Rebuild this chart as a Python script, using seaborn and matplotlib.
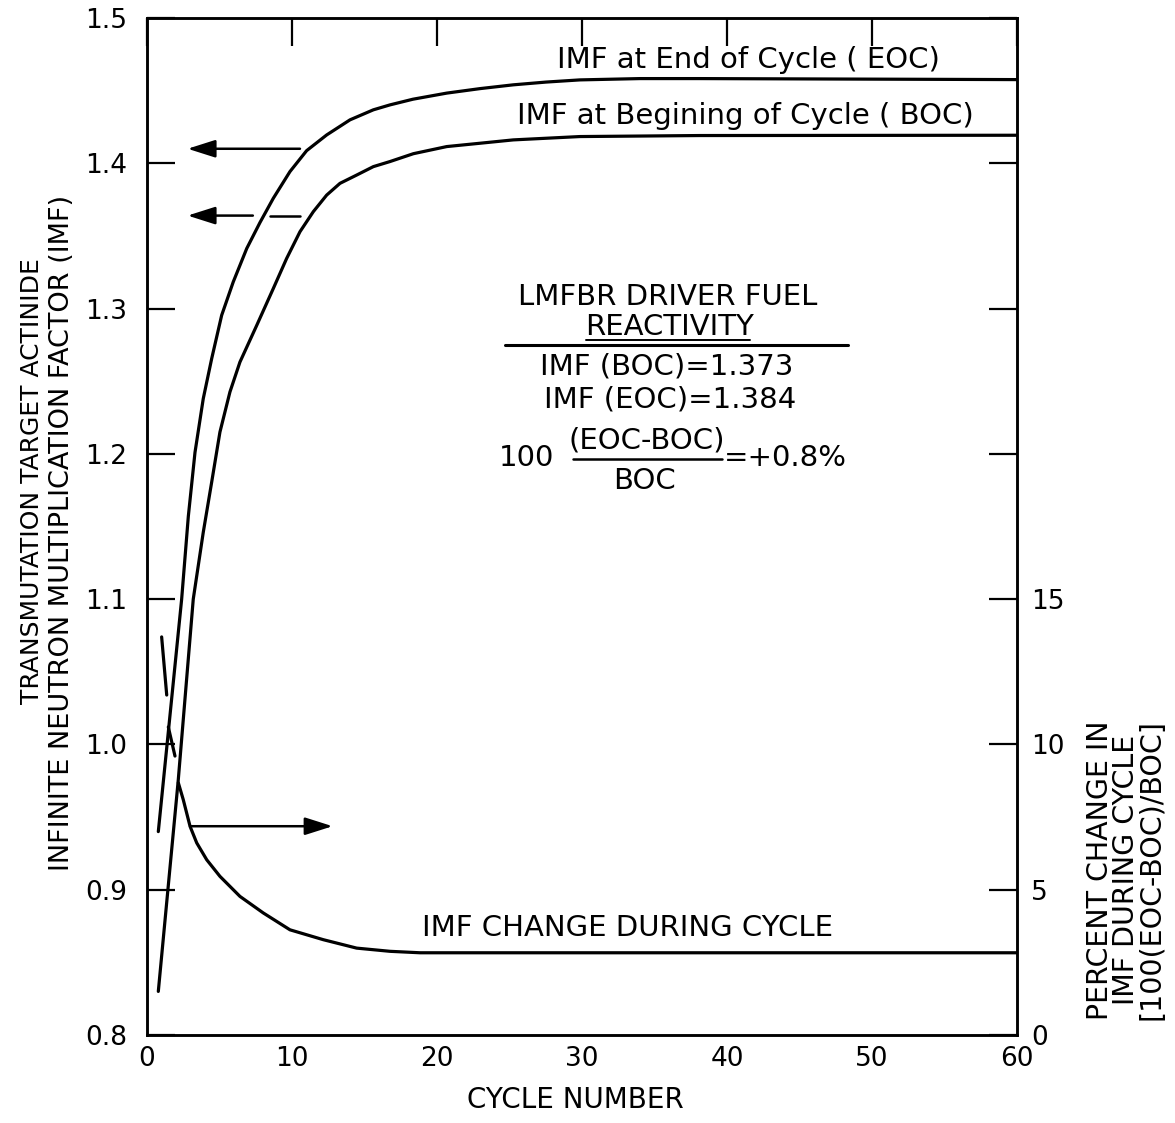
import numpy as np
import pandas as pd
import matplotlib
matplotlib.use("Agg")
import matplotlib.pyplot as plt
from matplotlib import font_manager as fm
import seaborn as sns

# ---------------- data ----------------
cycle_eoc = [0.78, 2.39, 2.85, 3.31, 3.88, 4.46, 5.15, 5.95, 6.88, 7.79, 8.71,
             9.86, 11.01, 12.39, 14.00, 15.61, 16.76, 18.34, 20.67, 22.97,
             25.26, 27.52, 29.86, 34.0, 38.1, 60.0]
imf_eoc = [0.940, 1.100, 1.157, 1.201, 1.238, 1.2655, 1.2954, 1.3184, 1.3414,
           1.3592, 1.3759, 1.3943, 1.4087, 1.4195, 1.4299, 1.4368, 1.4402,
           1.4441, 1.4483, 1.4514, 1.4540, 1.4559, 1.4574, 1.4583, 1.4583,
           1.4576]

cycle_boc = [0.78, 2.16, 3.19, 3.88, 4.46, 5.03, 5.72, 6.41, 7.57, 8.71, 9.63,
             10.55, 11.47, 12.39, 13.31, 14.46, 15.61, 16.76, 18.37, 20.67,
             22.97, 25.26, 29.86, 38.14, 60.0]
imf_boc = [0.830, 0.976, 1.100, 1.146, 1.1805, 1.215, 1.2426, 1.2632, 1.2885,
           1.3138, 1.3345, 1.3529, 1.3667, 1.3781, 1.3862, 1.3919, 1.3977,
           1.4012, 1.4066, 1.4115, 1.4138, 1.4161, 1.4184, 1.4191, 1.4193]

# percent change curve, drawn in three pen strokes in the original
pct_segment = [1, 1, 2, 2, 3, 3, 3, 3, 3, 3, 3, 3, 3, 3, 3, 3, 3, 3]
pct_cycle = [1.01, 1.36, 1.47, 1.93, 2.16, 2.50, 2.97, 3.43, 4.12, 5.03, 6.41,
             8.02, 9.86, 12.16, 14.46, 16.76, 18.83, 60.0]
pct_change = [13.7, 11.7, 10.6, 9.6, 8.68, 8.10, 7.18, 6.61, 6.03, 5.46, 4.77,
              4.20, 3.62, 3.28, 2.99, 2.88, 2.83, 2.83]

x_ticks = [0, 10, 20, 30, 40, 50, 60]
y_ticks = [0.8, 0.9, 1.0, 1.1, 1.2, 1.3, 1.4, 1.5]
y_ticklabels = ["0.8", "0.9", "1.0", "1.1", "1.2", "1.3", "1.4", "1.5"]
r_ticks = [0, 5, 10, 15, 20, 25, 30, 35]
r_ticklabels = ["0", "5", "10", "15", "", "", "", ""]

# ---------------- style ----------------
sns.set_style("white")
plt.rcParams["font.family"] = ["DejaVu Sans"]


def has_font(name):
    try:
        fm.findfont(fm.FontProperties(family=name), fallback_to_default=False)
        return True
    except Exception:
        return False


NARROW = has_font("Liberation Sans Narrow")

W, H = 1175, 1123
fig = plt.figure(figsize=(W / 100, H / 100), dpi=100)
L, R, B, T = 147, 1017, 1035, 18
ax = fig.add_axes([L / W, 1 - B / H, (R - L) / W, (B - T) / H])
ax2 = ax.twinx()

LW = 2.3
eoc_df = pd.DataFrame({"cycle": cycle_eoc, "imf": imf_eoc})
boc_df = pd.DataFrame({"cycle": cycle_boc, "imf": imf_boc})
pct_df = pd.DataFrame({"cycle": pct_cycle, "pct": pct_change, "seg": pct_segment})

sns.lineplot(data=eoc_df, x="cycle", y="imf", ax=ax, color="black", lw=LW,
             sort=False, estimator=None)
sns.lineplot(data=boc_df, x="cycle", y="imf", ax=ax, color="black", lw=LW,
             sort=False, estimator=None)
sns.lineplot(data=pct_df, x="cycle", y="pct", units="seg", ax=ax2, color="black",
             lw=LW, sort=False, estimator=None)

ax.set_xlim(0, 60)
ax.set_ylim(0.8, 1.5)
ax2.set_ylim(0, 35)
ax.set_xticks(x_ticks)
ax.set_xticklabels([str(t) for t in x_ticks])
ax.set_yticks(y_ticks)
ax.set_yticklabels(y_ticklabels)
ax2.set_yticks(r_ticks)
ax2.set_yticklabels(r_ticklabels)
ax.set_xlabel("")
ax.set_ylabel("")
ax2.set_ylabel("")

for a in (ax, ax2):
    for s in a.spines.values():
        s.set_linewidth(1.8)
        s.set_color("black")
ax.tick_params(axis="x", direction="in", length=20, width=1.6, top=True,
               labelsize=19, pad=8, colors="black")
ax.tick_params(axis="y", direction="in", length=20, width=1.6, right=False,
               labelsize=19, pad=14, colors="black")
ax2.tick_params(axis="y", direction="in", length=20, width=1.6, labelsize=19,
                pad=10, colors="black")

# ---------------- annotations ----------------
tk = dict(color="black", ha="center", va="center")
FS = 21
ax.text(41.45, 1.471, "IMF at End of Cycle ( EOC)", fontsize=FS, **tk)
ax.text(41.24, 1.4324, "IMF at Begining of Cycle ( BOC)", fontsize=FS, **tk)
ax.text(35.93, 1.3083, "LMFBR DRIVER FUEL", fontsize=FS, **tk)
ax.text(36.07, 1.2876, "REACTIVITY", fontsize=FS, **tk)
ax.plot([30.3, 41.6], [1.2786, 1.2786], color="black", lw=1.4)
ax.plot([24.69, 48.34], [1.2752, 1.2752], color="black", lw=2.2)
ax.text(35.86, 1.2600, "IMF (BOC)=1.373", fontsize=FS, **tk)
ax.text(36.07, 1.2372, "IMF (EOC)=1.384", fontsize=FS, **tk)
ax.text(26.2, 1.1972, "100", fontsize=FS, **tk)
ax.text(34.48, 1.2090, "(EOC-BOC)", fontsize=FS, **tk)
ax.plot([29.38, 39.66], [1.1966, 1.1966], color="black", lw=1.8)
ax.text(34.34, 1.1814, "BOC", fontsize=FS, **tk)
ax.text(44.0, 1.1972, "=+0.8%", fontsize=FS, **tk)
ax.text(33.17, 0.8738, "IMF CHANGE DURING CYCLE", fontsize=FS, **tk)

arrow = dict(arrowstyle="-|>,head_length=0.85,head_width=0.27", color="black",
             lw=1.8, mutation_scale=20, shrinkA=0, shrinkB=0)
ax.annotate("", xy=(2.8, 1.410), xytext=(10.55, 1.410), arrowprops=arrow)
ax.annotate("", xy=(2.8, 1.364), xytext=(7.3, 1.364), arrowprops=arrow)
ax.plot([8.45, 10.55], [1.364, 1.364], color="black", lw=1.8)
ax.annotate("", xy=(12.8, 0.9437), xytext=(2.97, 0.9437), arrowprops=arrow)

# axis titles
if NARROW:
    lab_font = ["Liberation Sans Narrow", "DejaVu Sans"]
    fs1, fs2 = 21, 23
else:
    lab_font = ["DejaVu Sans"]
    fs1, fs2 = 18, 19.5
fig.text(32 / W, 1 - 481 / H, "TRANSMUTATION TARGET ACTINIDE", rotation=90,
         fontsize=fs1, family=lab_font, **tk)
fig.text(62 / W, 1 - 533 / H, "INFINITE NEUTRON MULTIPLICATION FACTOR (IMF)",
         rotation=90, fontsize=fs2, family=lab_font, **tk)
fig.text(1126 / W, 1 - 870 / H,
         "PERCENT CHANGE IN\nIMF DURING CYCLE\n[100(EOC-BOC)/BOC]",
         rotation=90, fontsize=20.5, linespacing=0.9, multialignment="center", **tk)
fig.text(575 / W, 1 - 1100 / H, "CYCLE NUMBER", fontsize=20, **tk)

fig.savefig("out.png", dpi=100, facecolor="white")
